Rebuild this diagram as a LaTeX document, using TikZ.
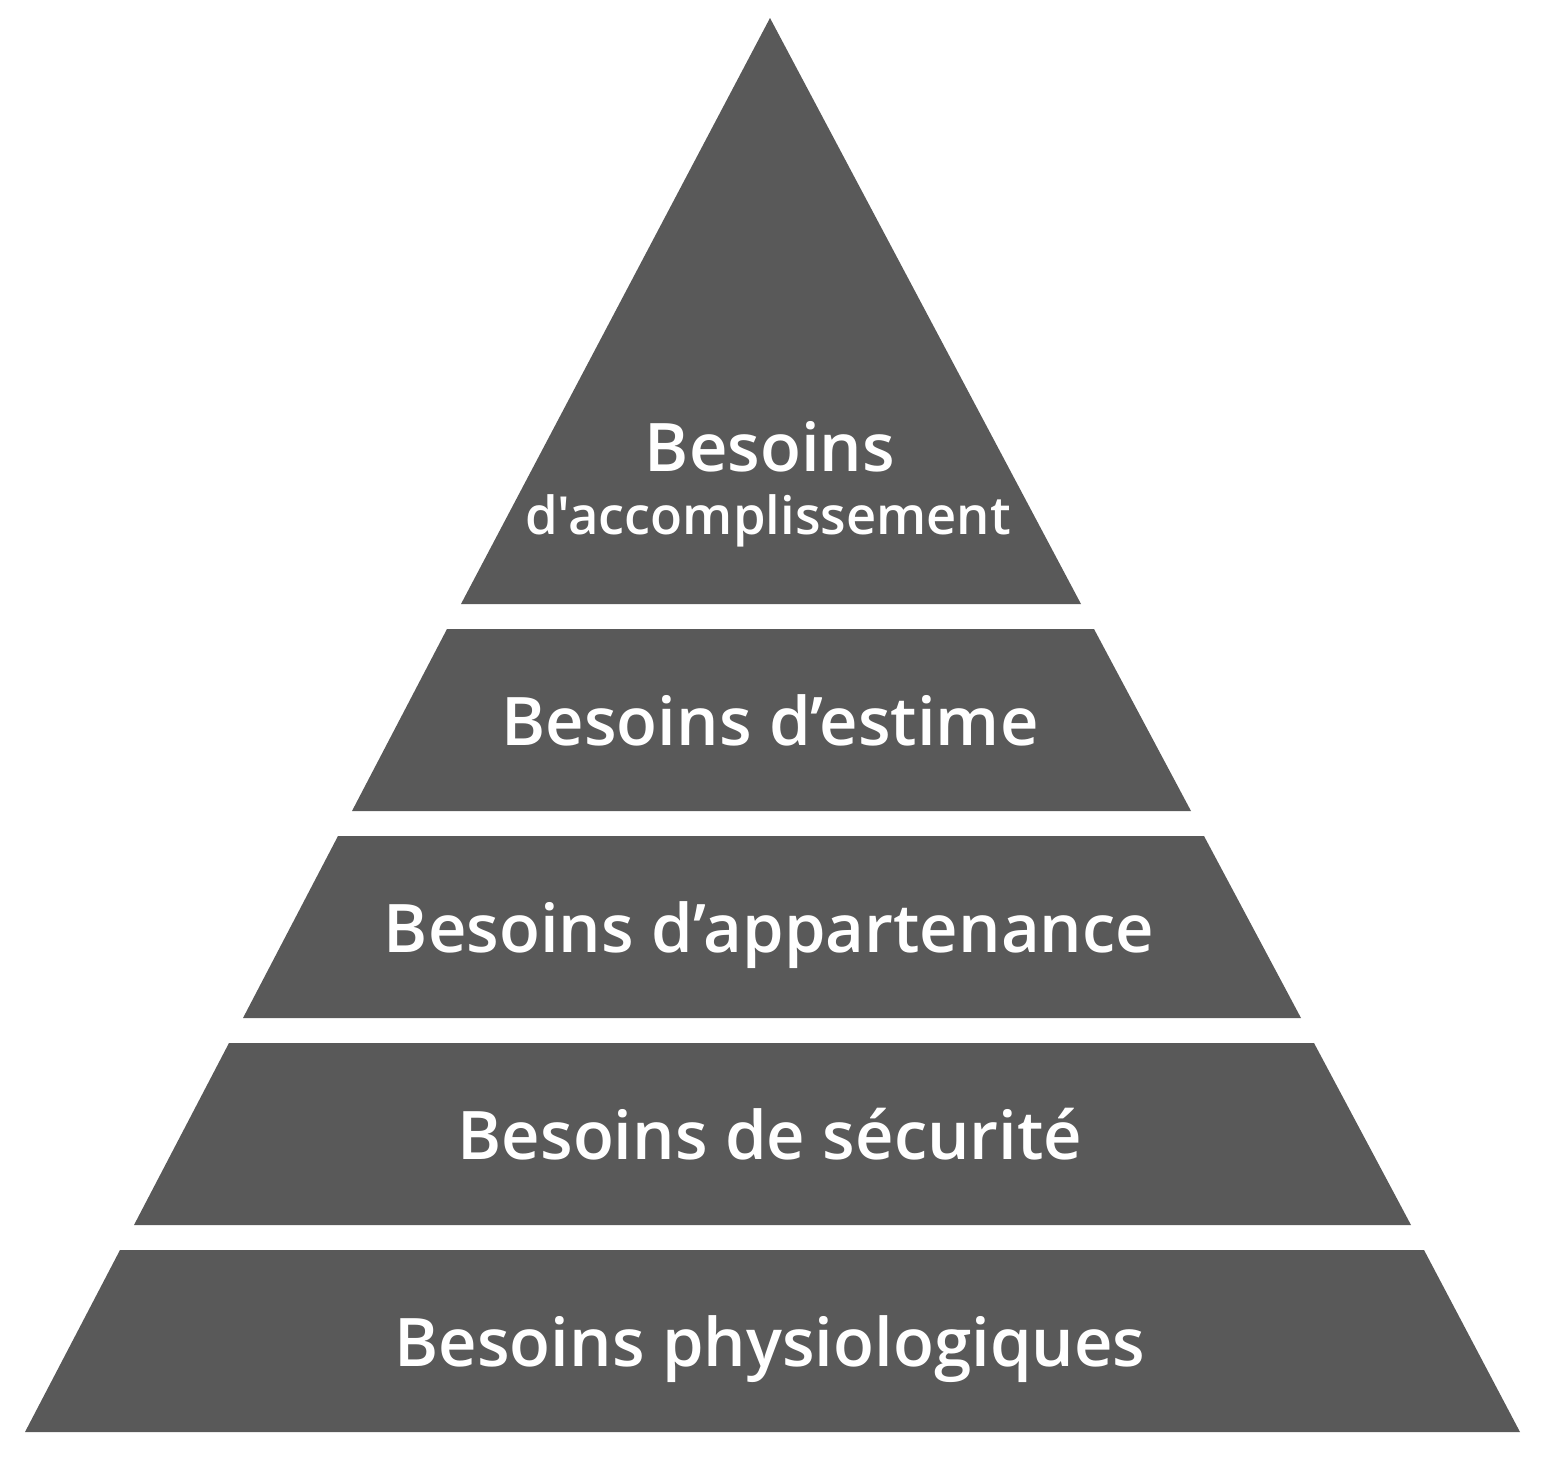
\documentclass[tikz,border=0pt]{standalone}
\usepackage{fontspec}
\IfFontExistsTF{Open Sans Semibold}
  {\setmainfont{Open Sans}[Ligatures=TeXOff, BoldFont={Open Sans Semibold}]}
  {\IfFontExistsTF{OpenSans-SemiBold}
    {\setmainfont{Open Sans}[Ligatures=TeXOff, BoldFont={OpenSans-SemiBold}]}
    {\IfFontExistsTF{OpenSans-Semibold}
      {\setmainfont{Open Sans}[Ligatures=TeXOff, BoldFont={OpenSans-Semibold}]}
      {\setmainfont{Open Sans}[Ligatures=TeXOff, BoldFeatures={FakeStretch=0.967}]}}}
\definecolor{tiergray}{HTML}{595959}
\tikzset{
  tier/.style={fill=tiergray},
  tierlabel/.style={text=white, font=\bfseries\fontsize{67}{80}\selectfont, anchor=base, inner sep=0pt}
}
\begin{document}
\begin{tikzpicture}[x=1pt,y=-1pt]
\useasboundingbox (0,0) rectangle (1550,1470);

% Define points
\coordinate (A) at (770,18);
\coordinate (A1) at (461,604);
\coordinate (A2) at (1081,604);

% Draw tiers
\fill[tier] (A) -- (A1) -- (A2) -- cycle;
\fill[tier] (447,629) -- (352,811) -- (1191,811) -- (1094,629) -- cycle; % estime
\fill[tier] (338,836) -- (243,1018) -- (1301,1018) -- (1204,836) -- cycle; % appartenance
\fill[tier] (229,1043) -- (134,1225) -- (1411,1225) -- (1314,1043) -- cycle; % securite
\fill[tier] (120,1250) -- (25,1432) -- (1520,1432) -- (1424,1250) -- cycle; % physiologiques

% Labels
\node[tierlabel] (top1) at (770,471) {Besoins};
\node[tierlabel, font=\bfseries\fontsize{52.5}{63}\selectfont] (top2) at (768,534) {d'accomplissement};
\node[tierlabel] (estime) at (770,745) {Besoins d’estime};
\node[tierlabel] (appart) at (769,952) {Besoins d’appartenance};
\node[tierlabel] (secu) at (770,1159) {Besoins de sécurité};
\node[tierlabel] (physio) at (770,1366) {Besoins physiologiques};

\end{tikzpicture}
\end{document}
